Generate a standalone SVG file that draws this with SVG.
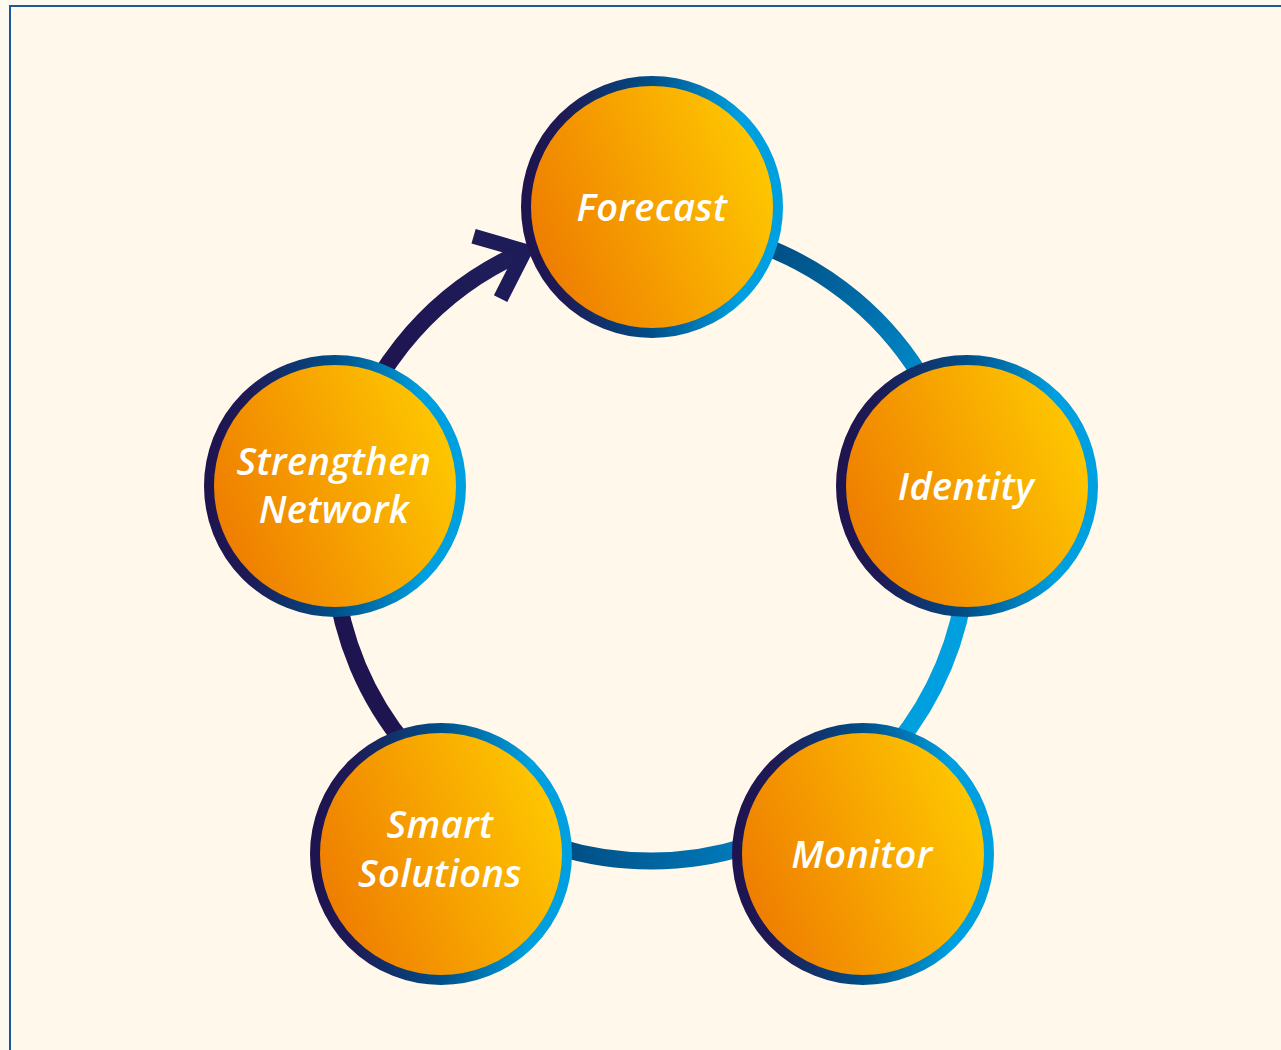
<svg xmlns="http://www.w3.org/2000/svg" width="1281" height="1050" viewBox="0 0 1281 1050">
  <style>
    .node-fill { stroke: url(#ringStroke); stroke-width: 10; }
    .label { font-family: "Open Sans", "Noto Sans", "DejaVu Sans", sans-serif; font-style: italic; font-weight: 600; font-size: 38px; fill: #ffffff; text-anchor: middle; letter-spacing: 0.4px; }
    .conn { fill: none; stroke-width: 17; stroke-linecap: butt; }
  </style>
  <defs>
    <linearGradient id="nodeFill" x1="0" y1="0.7" x2="1" y2="0.3">
      <stop offset="0" stop-color="#ee7a00"/>
      <stop offset="1" stop-color="#ffca00"/>
    </linearGradient>
    <linearGradient id="ringStroke" x1="0" y1="0" x2="1" y2="0">
      <stop offset="0" stop-color="#1e1450"/>
      <stop offset="0.15" stop-color="#1e1a55"/>
      <stop offset="0.5" stop-color="#004f88"/>
      <stop offset="0.85" stop-color="#00a0e0"/>
      <stop offset="1" stop-color="#00a0e0"/>
    </linearGradient>
    <linearGradient id="gFI" gradientUnits="userSpaceOnUse" x1="775" y1="250" x2="915" y2="366">
      <stop offset="0" stop-color="#004f85"/>
      <stop offset="1" stop-color="#0085c5"/>
    </linearGradient>
    <linearGradient id="gMS" gradientUnits="userSpaceOnUse" x1="572" y1="850" x2="732" y2="850">
      <stop offset="0" stop-color="#004f86"/>
      <stop offset="1" stop-color="#0079b8"/>
    </linearGradient>
    <linearGradient id="gSF" gradientUnits="userSpaceOnUse" x1="380" y1="360" x2="525" y2="250">
      <stop offset="0" stop-color="#1e1450"/>
      <stop offset="1" stop-color="#1e1f5c"/>
    </linearGradient>
    <marker id="chevron" markerUnits="userSpaceOnUse" viewBox="-60 -50 80 100" markerWidth="80" markerHeight="100" refX="0" refY="0" orient="auto" overflow="visible">
      <path d="M -41,-34 L 0,0 L -41,34" fill="none" stroke="#1e1c58" stroke-width="15" stroke-linejoin="miter" stroke-miterlimit="10"/>
    </marker>
  </defs>

  <rect x="0" y="0" width="1281" height="1050" fill="#fffaf0"/>
  <rect x="10" y="6" width="1290" height="1060" fill="#fff8eb" stroke="#1a5a9a" stroke-width="2"/>

  <g id="connectors">
    <path class="conn" stroke="url(#gFI)" d="M 651,225 A 318 318 0 0 1 963,486.7"/>
    <path class="conn" stroke="#00a0e0" d="M 963,486.7 A 318 318 0 0 1 830.2,805.7"/>
    <path class="conn" stroke="url(#gMS)" d="M 830.2,805.7 A 318 318 0 0 1 473.2,806.6"/>
    <path class="conn" stroke="#1e1450" d="M 473.2,806.6 A 318 318 0 0 1 338,486.7"/>
    <path class="conn" stroke="url(#gSF)" d="M 338,486.7 A 318 318 0 0 1 524.7,251.1" marker-end="url(#chevron)"/>
  </g>

  <g id="node-forecast">
    <circle class="node-fill" cx="652" cy="207" r="126" fill="url(#nodeFill)"/>
    <text class="label" x="652" y="221">Forecast</text>
  </g>
  <g id="node-identity">
    <circle class="node-fill" cx="967" cy="486" r="126" fill="url(#nodeFill)"/>
    <text class="label" x="966" y="500">Identity</text>
  </g>
  <g id="node-monitor">
    <circle class="node-fill" cx="863" cy="854" r="126" fill="url(#nodeFill)"/>
    <text class="label" x="862" y="868">Monitor</text>
  </g>
  <g id="node-smart-solutions">
    <circle class="node-fill" cx="441" cy="854" r="126" fill="url(#nodeFill)"/>
    <text class="label" x="440" y="838">Smart</text>
    <text class="label" x="440" y="887">Solutions</text>
  </g>
  <g id="node-strengthen-network">
    <circle class="node-fill" cx="335" cy="486" r="126" fill="url(#nodeFill)"/>
    <text class="label" x="334" y="475">Strengthen</text>
    <text class="label" x="334" y="523">Network</text>
  </g>
</svg>
